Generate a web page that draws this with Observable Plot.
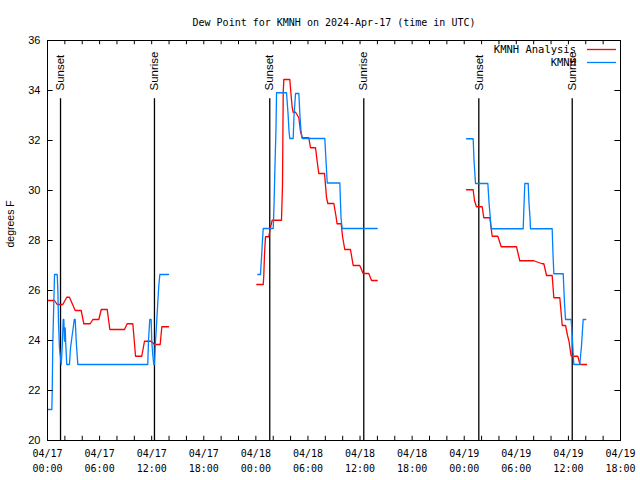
<!DOCTYPE html>
<html><head><meta charset="utf-8">
<script src="https://cdn.jsdelivr.net/npm/d3@7"></script>
<script src="https://cdn.jsdelivr.net/npm/@observablehq/plot@0.6"></script>
<style>body{margin:0;background:#fff}</style>
</head><body><div id="chart"></div>
<script>
// ---------- data (times are hours after 2024-04-17 00:00 UTC) ----------
const title = "Dew Point for KMNH on 2024-Apr-17 (time in UTC)";
const yLabel = "degrees F";
const startUTC = Date.UTC(2024, 3, 17, 0, 0);
const domainHours = [0, 66];
const xTickHours = [0, 6, 12, 18, 24, 30, 36, 42, 48, 54, 60, 66];
const xMinorStepHours = 2;
const yTicks = [20, 22, 24, 26, 28, 30, 32, 34, 36];
const seriesNames = ["KMNH Analysis", "KMNH"];
const seriesColors = ["#ff0000", "#0080ff"];

const sunHours = [1.50, 12.32, 25.60, 36.43, 49.68, 60.44];
const sunLabels = ["Sunset", "Sunrise", "Sunset", "Sunrise", "Sunset", "Sunrise"];

const analysisHours = [
  0.03, 0.81, 1.12, 1.76, 2.22, 2.53, 3.19, 3.88, 4.18, 4.92, 5.22, 5.91, 6.19, 6.88,
  7.18, 8.87, 9.18, 9.83, 10.14, 10.86, 11.17, 11.94, 12.32, 12.98, 13.17, 13.94,
  24.11, 24.85, 24.91, 25.00, 25.11, 25.49, 25.63, 25.88, 26.95, 27.07, 27.15, 27.22,
  27.91, 28.05, 28.19, 28.30, 28.57, 28.95, 29.14, 29.34, 30.10, 30.29, 30.87, 31.06,
  31.25, 31.91, 32.14, 32.29, 32.98, 33.23, 33.35, 33.83, 33.98, 34.24, 34.90, 35.21,
  35.97, 36.36, 37.01, 37.32, 37.98,
  48.26, 49.03, 49.18, 49.41, 50.07, 50.25, 50.95, 51.22, 51.87, 52.26, 54.02, 54.40,
  56.01, 56.98, 57.17, 57.48, 58.13, 58.32, 59.01, 59.29, 59.67, 59.90, 60.07, 60.30,
  60.36, 61.08, 61.34, 62.08
];
const analysisValues = [
  25.60, 25.60, 25.44, 25.44, 25.73, 25.73, 25.20, 25.20, 24.67, 24.67, 24.84, 24.84, 25.24, 25.24,
  24.44, 24.44, 24.67, 24.67, 23.37, 23.37, 23.97, 23.97, 23.84, 23.84, 24.55, 24.55,
  26.24, 26.24, 26.57, 27.50, 28.15, 28.15, 28.45, 28.81, 28.81, 30.24, 33.91, 34.44,
  34.44, 33.84, 33.31, 33.13, 33.13, 32.91, 32.37, 32.11, 32.11, 31.71, 31.71, 31.17,
  30.68, 30.68, 29.71, 29.48, 29.48, 28.97, 28.67, 28.67, 28.17, 27.64, 27.64, 27.00,
  27.00, 26.68, 26.68, 26.40, 26.40,
  30.03, 30.03, 29.60, 29.35, 29.35, 28.91, 28.91, 28.17, 28.17, 27.75, 27.75, 27.19,
  27.19, 27.07, 27.07, 26.60, 26.60, 25.71, 25.71, 24.60, 24.60, 24.20, 23.97, 23.40,
  23.37, 23.37, 23.04, 23.04
];

const obsHours = [
  0.03, 0.50, 0.55, 0.61, 0.81, 1.12, 1.19, 1.27, 1.38, 1.58, 1.69, 1.81, 1.88, 1.96,
  2.04, 2.11, 2.22, 2.53, 2.65, 2.80, 2.96, 3.08, 3.19, 3.31, 3.49, 11.55, 11.63, 11.78,
  11.94, 12.01, 12.13, 12.24, 12.32, 12.44, 12.55, 12.70, 12.82, 12.94, 13.94,
  24.22, 24.53, 24.65, 24.76, 24.85, 26.00, 26.09, 26.20, 26.32, 26.38, 27.53, 27.70,
  27.82, 27.91, 28.30, 28.39, 28.57, 28.95, 29.08, 29.20, 29.34, 31.94, 32.22, 33.67,
  33.81, 33.94, 37.98,
  48.26, 49.03, 49.13, 49.22, 49.30, 50.72, 50.86, 51.03, 51.11, 54.79, 54.88, 54.98,
  55.37, 55.46, 55.58, 55.63, 58.13, 58.22, 58.32, 59.40, 59.55, 59.67, 60.32, 60.47,
  60.62, 61.31, 61.51, 61.70, 62.00
];
const obsValues = [
  21.24, 21.24, 22.10, 23.90, 26.64, 26.64, 26.04, 24.70, 23.70, 23.04, 23.70, 24.84, 24.84, 23.97,
  24.50, 23.80, 23.04, 23.04, 23.70, 24.10, 24.50, 24.84, 24.84, 23.97, 23.04, 23.04, 23.97, 24.84,
  24.84, 23.97, 23.40, 23.04, 23.04, 23.97, 24.57, 25.50, 26.20, 26.64, 26.64,
  26.64, 26.64, 27.30, 28.00, 28.48, 28.48, 29.37, 30.97, 32.50, 33.91, 33.91, 33.11,
  32.37, 32.08, 32.08, 32.97, 33.88, 33.88, 32.97, 32.37, 32.08, 32.08, 30.30, 30.30,
  28.90, 28.48, 28.48,
  32.07, 32.07, 31.20, 30.70, 30.28, 30.28, 29.50, 28.80, 28.47, 28.47, 29.37, 30.28,
  30.28, 29.50, 28.90, 28.47, 28.47, 27.50, 26.67, 26.67, 25.50, 24.84, 24.84, 24.00,
  23.04, 23.04, 23.80, 24.84, 24.84
];

// ---------- helpers ----------
const toDate = h => new Date(startUTC + h * 3600e3);
function rows(hours, values) {
  let seg = 0;
  return hours.map((h, i) => {
    if (i > 0 && h - hours[i - 1] > 9) seg++;
    return {t: toDate(h), v: values[i], seg};
  });
}
const analysis = rows(analysisHours, analysisValues);
const obs = rows(obsHours, obsValues);
const sun = sunHours.map((h, i) => ({t: toDate(h), label: sunLabels[i]}));
const majorDates = xTickHours.map(toDate);
const minorDates = d3.range(domainHours[0], domainHours[1] + 0.001, xMinorStepHours).map(toDate);
const x0 = toDate(domainHours[0]), x1 = toDate(domainHours[1]);
const fmt1 = d3.utcFormat("%m/%d"), fmt2 = d3.utcFormat("%H:%M");

const mono = "DejaVu Sans Mono";
const sans = "Liberation Sans";

function legend(index, scales, values, dims) {
  const ns = "http://www.w3.org/2000/svg";
  const g = document.createElementNS(ns, "g");
  const xr = dims.width - dims.marginRight;
  seriesNames.forEach((name, i) => {
    const y = dims.marginTop + 9.5 + i * 13;
    const t = document.createElementNS(ns, "text");
    t.setAttribute("x", xr - 44); t.setAttribute("y", y);
    t.setAttribute("text-anchor", "end"); t.setAttribute("dy", "0.35em");
    t.setAttribute("font-family", mono); t.setAttribute("font-size", 10.5);
    t.setAttribute("fill", "black");
    t.textContent = name;
    g.appendChild(t);
    const l = document.createElementNS(ns, "line");
    l.setAttribute("x1", xr - 33); l.setAttribute("x2", xr - 4);
    l.setAttribute("y1", y); l.setAttribute("y2", y);
    l.setAttribute("stroke", seriesColors[i]); l.setAttribute("stroke-width", 1.3);
    g.appendChild(l);
  });
  return g;
}

const chart = Plot.plot({
  width: 640, height: 480,
  marginLeft: 47, marginRight: 20, marginTop: 40, marginBottom: 40,
  style: {background: "white", fontFamily: mono, fontSize: "10px", color: "black"},
  x: {type: "utc", domain: [x0, x1], axis: null},
  y: {domain: [yTicks[0], yTicks[yTicks.length - 1]], axis: null},
  marks: [
    // sun lines and labels
    Plot.ruleX(sun, {x: "t", y1: yTicks[0], y2: 33.67, stroke: "black", strokeWidth: 1.3}),
    Plot.text(sun, {x: "t", y: 34.0, text: "label", rotate: -90, textAnchor: "start",
      lineAnchor: "middle", fontFamily: sans, fontSize: 11.5, fill: "black"}),
    // data
    Plot.line(analysis, {x: "t", y: "v", z: "seg", stroke: seriesColors[0], strokeWidth: 1.3}),
    Plot.line(obs, {x: "t", y: "v", z: "seg", stroke: seriesColors[1], strokeWidth: 1.3}),
    // frame
    Plot.frame({stroke: "black", strokeWidth: 1}),
    // inward ticks, bottom / top
    Plot.ruleX(minorDates, {x: d => d, y1: 20, y2: 20.17, stroke: "black"}),
    Plot.ruleX(minorDates, {x: d => d, y1: 36, y2: 35.83, stroke: "black"}),
    // inward ticks, left / right
    Plot.ruleY(yTicks, {y: d => d, x1: x0, x2: toDate(domainHours[0] + 0.65), stroke: "black"}),
    Plot.ruleY(yTicks, {y: d => d, x1: x1, x2: toDate(domainHours[1] - 0.65), stroke: "black"}),
    // axis labels
    Plot.axisY({ticks: yTicks, tickSize: 0, tickPadding: 7, label: null,
      fontFamily: sans, fontSize: 11}),
    Plot.text(majorDates, {x: d => d, frameAnchor: "bottom", dy: 6, lineAnchor: "top",
      lineHeight: 1.5, text: d => fmt1(d) + "\n" + fmt2(d), fontFamily: mono, fontSize: 10, fill: "black"}),
    // titles
    Plot.text([title], {frameAnchor: "top", dy: -22, text: d => d, fontFamily: mono, fontSize: 10, fill: "black"}),
    Plot.text([yLabel], {frameAnchor: "left", dx: -37, dy: 7, rotate: -90, text: d => d,
      fontFamily: sans, fontSize: 10.5, fill: "black"}),
    legend
  ]
});
document.getElementById("chart").appendChild(chart);
</script>
</body></html>
